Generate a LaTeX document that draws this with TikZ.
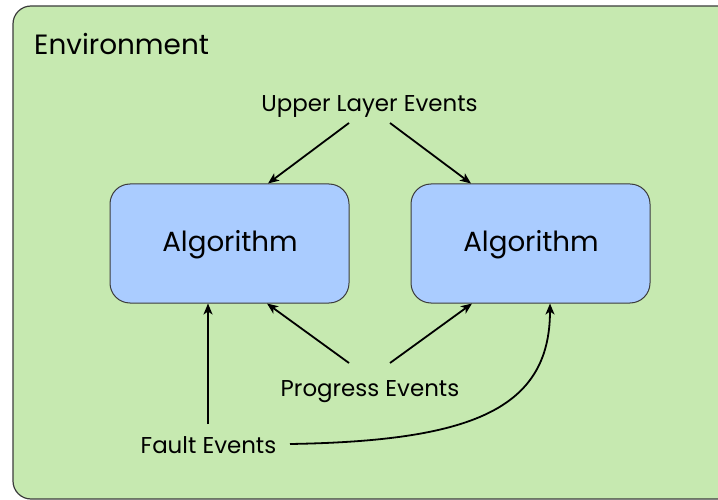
\documentclass[tikz,border=0pt]{standalone}
\usepackage{fontspec}
\setmainfont{Poppins}
\usetikzlibrary{arrows.meta}
\definecolor{envgreen}{RGB}{198,233,176}
\definecolor{algblue}{RGB}{170,204,255}
\definecolor{edge}{RGB}{60,60,60}
\tikzset{
  envbox/.style={draw=edge, line width=1.2bp, fill=envgreen, rounded corners=18bp},
  algbox/.style={draw=edge, line width=1bp, fill=algblue, rounded corners=20bp,
    minimum width=239bp, minimum height=119bp, inner sep=0pt},
  algtext/.style={anchor=base, inner sep=0pt, font=\fontsize{27.8}{32}\selectfont},
  evlabel/.style={anchor=base, inner sep=0pt, font=\fontsize{23}{27}\selectfont},
  evarrow/.style={line width=1.8bp, -{Stealth[length=11bp,width=9bp,inset=3bp]}},
}
\begin{document}
\begin{tikzpicture}[x=1bp,y=-1bp]
  \useasboundingbox (0,0) rectangle (718,500);
  % environment frame (runs off the right edge)
  \draw[envbox] (13,6) rectangle (735,499);
  \node[anchor=base west, inner sep=0pt, font=\fontsize{28}{32}\selectfont] (env) at (34,55) {Environment};

  % the two algorithm blocks
  \node[algbox] (alg1) at (229.5,243.5) {};
  \node[algbox] (alg2) at (530.5,243.5) {};
  \node[algtext] (alg1t) at (230,251.5) {Algorithm};
  \node[algtext] (alg2t) at (531,251.5) {Algorithm};

  % event sources
  \node[evlabel] (upper) at (369.5,111.5) {Upper Layer Events};
  \node[evlabel] (progress) at (370,396) {Progress Events};
  \node[evlabel] (fault) at (208.5,453) {Fault Events};

  % arrow start points next to the labels
  \coordinate (u1) at (349,123);
  \coordinate (u2) at (390,123);
  \coordinate (p1) at (349,363);
  \coordinate (p2) at (390,363);
  \coordinate (f1) at (208,424);
  \coordinate (f2) at (290,444);

  \draw[evarrow] (u1) -- ([xshift=38.5bp]alg1.north);
  \draw[evarrow] (u2) -- ([xshift=-59.5bp]alg2.north);
  \draw[evarrow] (p1) -- ([xshift=37.5bp]alg1.south);
  \draw[evarrow] (p2) -- ([xshift=-58.5bp]alg2.south);
  \draw[evarrow] (f1) -- (f1 |- alg1.south);
  \draw[evarrow] (f2) .. controls (470,441) and (550,410) .. ([xshift=19.5bp]alg2.south);
\end{tikzpicture}
\end{document}
